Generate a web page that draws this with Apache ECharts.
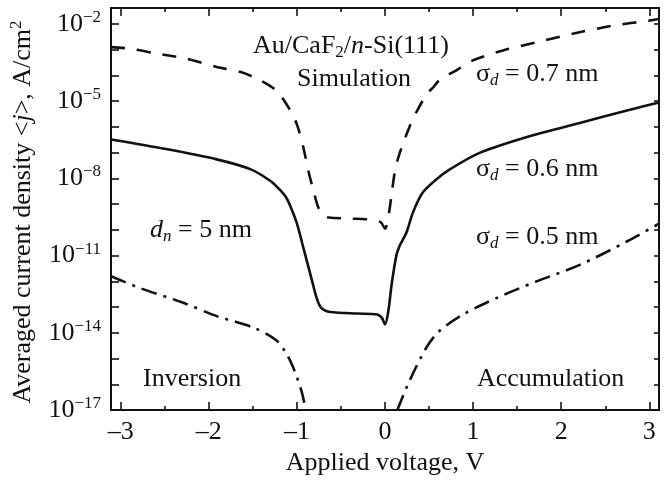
<!DOCTYPE html>
<html><head><meta charset="utf-8">
<script src="https://cdn.jsdelivr.net/npm/echarts@6/dist/echarts.min.js"></script>
<style>html,body{margin:0;padding:0;background:#fff}#c{width:667px;height:481px}</style>
</head><body><div id="c"></div>
<script>
// x ticks (V)
const xMajorTicks = [-3, -2, -1, 0, 1, 2, 3];
const xMinorTicks = [-2.5, -1.5, -0.5, 0.5, 1.5, 2.5];
// y ticks: exponent of 10 (A/cm^2)
const yDecadeTicks = [-17, -16, -15, -14, -13, -12, -11, -10, -9, -8, -7, -6, -5, -4, -3, -2];
const yLabelTicks = [-17, -14, -11, -8, -5, -2];

// sigma_d = 0.7 nm (dashed): voltage and log10(j)
const v07 = [-3.11, -2.89, -2.59, -2.25, -1.91, -1.645, -1.42, -1.23, -1.08, -1.0, -0.93, -0.87, -0.81, -0.76, -0.70, -0.64, -0.4, -0.17, -0.05, 0.0, 0.04, 0.076, 0.11, 0.15, 0.21, 0.28, 0.36, 0.47, 0.55, 0.62, 0.81, 1.0, 1.34, 1.72, 2.13, 2.58, 3.0, 3.11];
const lg07 = [-2.90, -2.96, -3.15, -3.35, -3.67, -3.86, -4.18, -4.60, -5.33, -5.90, -6.75, -7.70, -8.50, -9.10, -9.45, -9.52, -9.56, -9.60, -9.70, -9.95, -9.44, -8.60, -7.77, -7.20, -6.60, -5.98, -5.40, -4.75, -4.45, -4.18, -3.80, -3.41, -3.03, -2.71, -2.38, -2.07, -1.87, -1.81];

// sigma_d = 0.6 nm (solid)
const v06 = [-3.11, -2.47, -1.91, -1.53, -1.30, -1.20, -1.12, -1.06, -1.0, -0.93, -0.83, -0.78, -0.74, -0.70, -0.62, -0.32, -0.094, -0.037, 0.0, 0.038, 0.076, 0.13, 0.17, 0.2, 0.246, 0.32, 0.43, 0.585, 0.74, 1.08, 1.64, 2.21, 2.78, 3.11];
const lg06 = [-6.49, -6.87, -7.26, -7.64, -8.10, -8.42, -8.75, -9.20, -9.75, -10.65, -11.95, -12.60, -12.95, -13.10, -13.19, -13.25, -13.28, -13.41, -13.67, -13.15, -12.10, -10.98, -10.59, -10.40, -10.08, -9.30, -8.54, -8.03, -7.64, -7.00, -6.36, -5.85, -5.33, -5.05];

// sigma_d = 0.5 nm (dash-dot), inversion branch and accumulation branch
const v05inv = [-3.11, -2.78, -2.29, -1.91, -1.49, -1.23, -1.12, -1.06, -1.0, -0.94, -0.90];
const lg05inv = [-11.80, -12.26, -12.83, -13.35, -13.80, -14.30, -14.80, -15.20, -15.72, -16.36, -17.0];
const v05acc = [0.14, 0.28, 0.47, 0.62, 0.89, 1.27, 1.72, 2.21, 2.74, 3.11];
const lg05acc = [-17.0, -15.85, -14.57, -13.92, -13.28, -12.64, -12.00, -11.36, -10.46, -9.76];

const zip = (a, b) => a.map((x, i) => [x, b[i]]);
const FONT = 'Liberation Serif';
const BIG = 26, SMALL = 17;
const rich = {
  a: {fontFamily: FONT, fontSize: BIG, color: '#111', lineHeight: 30},
  i: {fontFamily: FONT, fontSize: BIG, fontStyle: 'italic', color: '#111', lineHeight: 30},
  sub: {fontFamily: FONT, fontSize: SMALL, color: '#111', lineHeight: 17, verticalAlign: 'bottom'},
  subi: {fontFamily: FONT, fontSize: SMALL, fontStyle: 'italic', color: '#111', lineHeight: 17, verticalAlign: 'bottom'},
  sup: {fontFamily: FONT, fontSize: SMALL, color: '#111', lineHeight: 17, verticalAlign: 'top'}
};
function txt(x, y, text, extra) {
  return Object.assign({
    type: 'text', x: x, y: y, silent: true,
    style: {text: text, rich: rich, textAlign: 'left', textVerticalAlign: 'middle', align: 'left', verticalAlign: 'middle', fill: '#111', fontFamily: FONT, fontSize: BIG}
  }, extra || {});
}
const tickStyle = {color: '#111', width: 1.6};
const lineStyleAxis = {color: '#111', width: 2};
function xAx(pos, ticks, len, showLine, showLabel) {
  return {
    type: 'value', position: pos, min: -3.11, max: 3.11,
    axisLine: {show: showLine, onZero: false, lineStyle: lineStyleAxis},
    axisTick: {show: true, inside: true, length: len, customValues: ticks, lineStyle: tickStyle},
    axisLabel: showLabel ? {show: true, customValues: xMajorTicks, margin: 9, fontFamily: FONT, fontSize: BIG, color: '#111',
      formatter: v => (v < 0 ? '\u2013' + Math.abs(v) : String(v))} : {show: false},
    splitLine: {show: false}
  };
}
const curveW = 2.6;
const option = {
  animation: false,
  backgroundColor: '#fff',
  grid: {left: 111, right: 8, top: 8, bottom: 67, containLabel: false},
  xAxis: [
    Object.assign(xAx('bottom', xMajorTicks, 8, true, true), {
      name: 'Applied voltage, V', nameLocation: 'middle', nameGap: 34,
      nameTextStyle: {fontFamily: FONT, fontSize: BIG, color: '#111'}
    }),
    xAx('bottom', xMinorTicks, 4, false, false),
    xAx('top', xMajorTicks, 8, true, false),
    xAx('top', xMinorTicks, 4, false, false)
  ],
  yAxis: [
    {
      type: 'value', position: 'left', min: -17, max: -1.38,
      axisLine: {show: true, onZero: false, lineStyle: lineStyleAxis},
      axisTick: {show: true, inside: true, length: 8, customValues: yDecadeTicks, lineStyle: tickStyle},
      axisLabel: {show: true, customValues: yLabelTicks, margin: 10,
        formatter: v => '{a|10}{sup|\u2212' + Math.abs(v) + '}', rich: rich},
      splitLine: {show: false}
    },
    {
      type: 'value', position: 'right', min: -17, max: -1.38,
      axisLine: {show: true, onZero: false, lineStyle: lineStyleAxis},
      axisTick: {show: true, inside: true, length: 5, customValues: yDecadeTicks, lineStyle: tickStyle},
      axisLabel: {show: false},
      splitLine: {show: false}
    }
  ],
  series: [
    {type: 'line', data: zip(v07, lg07), showSymbol: false, smooth: 0.3,
      lineStyle: {color: '#111', width: curveW, type: [14, 12]}},
    {type: 'line', data: zip(v06, lg06), showSymbol: false, smooth: 0.3,
      lineStyle: {color: '#111', width: curveW, type: 'solid'}},
    {type: 'line', data: zip(v05inv, lg05inv), showSymbol: false, smooth: 0.3,
      lineStyle: {color: '#111', width: curveW, type: [16, 7, 3, 7]}},
    {type: 'line', data: zip(v05acc, lg05acc), showSymbol: false, smooth: 0.3,
      lineStyle: {color: '#111', width: curveW, type: [16, 7, 3, 7]}}
  ],
  graphic: [
    txt(23, 212, '', {rotation: Math.PI / 2,
      style: {text: '{a|Averaged current density <}{i|j}{a|>, A/cm}{sup|2}', rich: rich, textAlign: 'center', textVerticalAlign: 'middle', align: 'center', verticalAlign: 'middle', fill: '#111'}}),
    txt(253, 46, '{a|Au/CaF}{sub|2}{a|/}{i|n}{a|-Si(111)}'),
    txt(297, 79, '{a|Simulation}'),
    txt(476, 74, '{a|\u03c3}{subi|d}{a| = 0.7 nm}'),
    txt(476, 169, '{a|\u03c3}{subi|d}{a| = 0.6 nm}'),
    txt(476, 237, '{a|\u03c3}{subi|d}{a| = 0.5 nm}'),
    txt(150, 230, '{i|d}{subi|n}{a| = 5 nm}'),
    txt(143, 379, '{a|Inversion}'),
    txt(477, 379, '{a|Accumulation}')
  ]
};
const chart = echarts.init(document.getElementById('c'), null, {renderer: 'canvas'});
chart.setOption(option);
</script></body></html>
